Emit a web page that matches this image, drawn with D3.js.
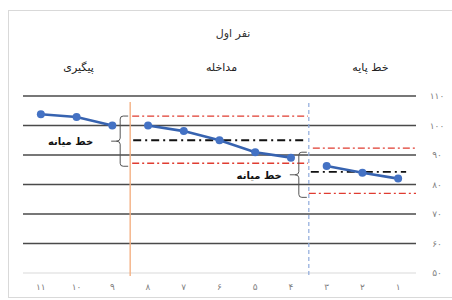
<!DOCTYPE html>
<html>
<head>
<meta charset="utf-8">
<script src="https://cdn.jsdelivr.net/npm/d3@7"></script>
<style>
  body { margin: 0; background: #fff; }
  text { font-family: "DejaVu Sans", "Liberation Serif", serif; }
</style>
</head>
<body>
<script>
// sessions, right to left (1 at right)
const sessions = [1, 2, 3, 4, 5, 6, 7, 8, 9, 10, 11];
const sessionLabels = ['۱', '۲', '۳', '۴', '۵', '۶', '۷', '۸', '۹', '۱۰', '۱۱'];
const scores = [82, 84, 86.3, 89.1, 90.9, 95, 98.1, 100, 100, 102.9, 103.8];
const yTicks = [50, 60, 70, 80, 90, 100, 110];
const yTickLabels = ['۵۰', '۶۰', '۷۰', '۸۰', '۹۰', '۱۰۰', '۱۱۰'];

const phaseNames = ['خط پایه', 'مداخله', 'پیگیری'];
const phaseStart = [1, 4, 9];
const phaseEnd = [3, 8, 11];

// median line and its stability band (baseline, intervention)
const medianValues = [84.3, 95];
const bandUpper = [92.3, 103.2];
const bandLower = [77, 87.2];

const title = 'نفر اول';
const medianLabel = 'خط میانه';

const W = 452, H = 300;
const svg = d3.select('body')
    .append('svg')
    .attr('width', W)
    .attr('height', H);

// chart frame
svg.append('rect')
    .attr('x', 8.5)
    .attr('y', 10.5)
    .attr('width', 460)
    .attr('height', 287)
    .attr('fill', 'none')
    .attr('stroke', '#d9d9d9');

const x = d3.scaleBand()
    .domain(sessions)
    .range([416, 23])
    .padding(0);

const y = d3.scaleLinear()
    .domain([50, 110])
    .range([273, 96]);

const cx = d => x(d) + x.bandwidth() / 2;

// grid lines
svg.append('g')
    .selectAll('line')
    .data(yTicks)
    .enter()
    .append('line')
    .attr('x1', 23)
    .attr('x2', 416)
    .attr('y1', d => y(d))
    .attr('y2', d => y(d))
    .attr('stroke', d => d === 50 ? '#d9d9d9' : '#4a4a4a')
    .attr('stroke-width', d => d === 50 ? 1 : 1.6);

// y tick labels (right side)
svg.append('g')
    .selectAll('text')
    .data(yTicks)
    .enter()
    .append('text')
    .attr('x', 437)
    .attr('y', d => y(d) + 3)
    .attr('text-anchor', 'middle')
    .attr('font-size', 9)
    .attr('fill', '#7f7f7f')
    .text((d, i) => yTickLabels[i]);

// x tick labels
svg.append('g')
    .selectAll('text')
    .data(sessions)
    .enter()
    .append('text')
    .attr('x', d => cx(d))
    .attr('y', 290)
    .attr('text-anchor', 'middle')
    .attr('font-size', 9)
    .attr('fill', '#7f7f7f')
    .text((d, i) => sessionLabels[i]);

// phase change lines
svg.append('line')
    .attr('x1', x(3)).attr('x2', x(3))
    .attr('y1', 103).attr('y2', 276)
    .attr('stroke', '#8faadc')
    .attr('stroke-width', 1.2)
    .attr('stroke-dasharray', '4,3');
svg.append('line')
    .attr('x1', x(8)).attr('x2', x(8))
    .attr('y1', 102).attr('y2', 276)
    .attr('stroke', '#f4b183')
    .attr('stroke-width', 1.4);

// median + band lines
const redDash = '7,3,2,3';
const blackDash = '8,4,2,4';
const phaseSpan = [
    [x(3) + 4, 416],
    [x(8) + 2, x(3) - 1]
];
const medianSpan = [
    [x(3) + 2, cx(1) + 8],
    [x(8) + 3, x(3) - 2]
];
[0, 1].forEach(p => {
    [bandUpper[p], bandLower[p]].forEach((v, k) => {
        svg.append('line')
            .attr('x1', k === 1 && p === 0 ? x(3) : phaseSpan[p][0])
            .attr('x2', phaseSpan[p][1])
            .attr('y1', y(v)).attr('y2', y(v))
            .attr('stroke', '#e03c31')
            .attr('stroke-width', 1.3)
            .attr('stroke-dasharray', redDash);
    });
    svg.append('line')
        .attr('x1', medianSpan[p][0])
        .attr('x2', medianSpan[p][1])
        .attr('y1', y(medianValues[p])).attr('y2', y(medianValues[p]))
        .attr('stroke', '#111')
        .attr('stroke-width', 1.8)
        .attr('stroke-dasharray', blackDash);
});

// data lines per phase
const line = d3.line()
    .x(d => cx(d.s))
    .y(d => y(d.v));

const points = sessions.map((s, i) => ({ s: s, v: scores[i] }));

phaseStart.forEach((st, p) => {
    const seg = points.filter(d => d.s >= st && d.s <= phaseEnd[p]);
    svg.append('path')
        .datum(seg)
        .attr('d', line)
        .attr('fill', 'none')
        .attr('stroke', '#3763b0')
        .attr('stroke-width', 2.6);
});

svg.append('g')
    .selectAll('circle')
    .data(points)
    .enter()
    .append('circle')
    .attr('cx', d => cx(d.s))
    .attr('cy', d => y(d.v))
    .attr('r', 4)
    .attr('fill', '#4472c4');

// braces with "median line" labels
function brace(xr, top, bottom, labelRight) {
    const mid = (top + bottom) / 2;
    const xv = xr - 8;
    const xt = xv - 4;
    const r = 3;
    const d = `M${xr},${top} L${xv + r},${top} Q${xv},${top} ${xv},${top + r}
        L${xv},${mid - r} Q${xv},${mid} ${xt},${mid}
        Q${xv},${mid} ${xv},${mid + r}
        L${xv},${bottom - r} Q${xv},${bottom} ${xv + r},${bottom} L${xr},${bottom}`;
    svg.append('path')
        .attr('d', d)
        .attr('fill', 'none')
        .attr('stroke', '#555')
        .attr('stroke-width', 1);
    svg.append('line')
        .attr('x1', xt - 5).attr('x2', xt)
        .attr('y1', mid).attr('y2', mid)
        .attr('stroke', '#555')
        .attr('stroke-width', 1);
    svg.append('text')
        .attr('x', labelRight)
        .attr('y', mid + 4)
        .attr('text-anchor', 'end')
        .attr('font-size', 10)
        .attr('font-weight', 'bold')
        .attr('fill', '#111')
        .text(medianLabel);
}
brace(x(8) - 2, y(bandUpper[1]), y(bandLower[1]) + 3, x(8) - 37);
brace(x(3) - 2, y(bandUpper[0]) + 4, y(bandLower[0]) + 4, x(3) - 27);

// title and phase names
svg.append('text')
    .attr('x', 233)
    .attr('y', 37)
    .attr('text-anchor', 'middle')
    .attr('font-size', 11)
    .attr('fill', '#333')
    .text(title);

const phaseLabelX = [
    (x(3) + 416) / 2 + 8,
    (x(8) + x(3)) / 2 + 2,
    (23 + x(8)) / 2 + 2
];
phaseNames.forEach((n, i) => {
    svg.append('text')
        .attr('x', phaseLabelX[i])
        .attr('y', 71)
        .attr('text-anchor', 'middle')
        .attr('font-size', 11)
        .attr('fill', '#222')
        .text(n);
});
</script>
</body>
</html>
